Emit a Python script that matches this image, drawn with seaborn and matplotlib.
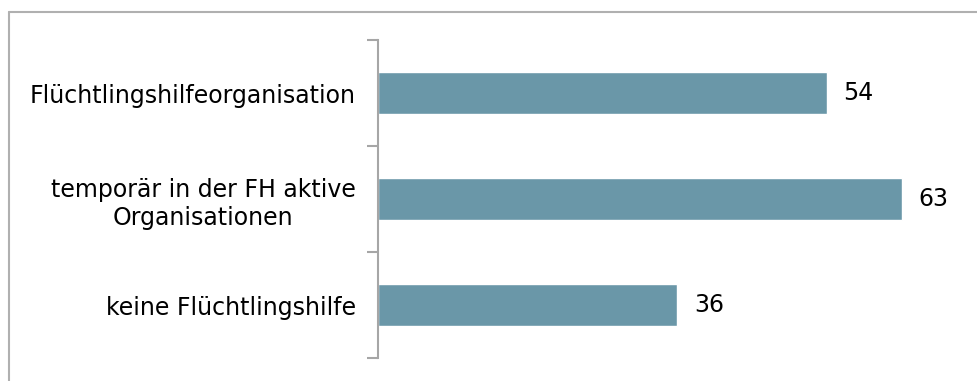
import matplotlib
matplotlib.use("Agg")
import matplotlib.pyplot as plt
import seaborn as sns
import pandas as pd
from matplotlib.lines import Line2D

categories = ["Flüchtlingshilfeorganisation", "temporär in der FH aktive\nOrganisationen", "keine Flüchtlingshilfe"]
values = [54, 63, 36]

sns.set_theme(style="white")
plt.rcParams['font.family'] = ['DejaVu Sans']

df = pd.DataFrame({"cat": categories, "val": values})
fig = plt.figure(figsize=(9.77, 3.81), dpi=100)
ax = fig.add_axes([378/977, 1-358/381, (960-378)/977, (358-40)/381])
sns.barplot(data=df, y="cat", x="val", color="#6A97A8", width=0.4, ax=ax, saturation=1)
ax.set_xlim(0, 70)
ax.set_ylim(2.5, -0.5)
ax.set_xlabel("")
ax.set_ylabel("")
ax.set_xticks([])
for s in ["top", "right", "bottom"]:
    ax.spines[s].set_visible(False)
ax.spines["left"].set_color("#A6A6A6")
ax.spines["left"].set_linewidth(1.5)
ax.tick_params(axis="y", which="major", length=0, pad=16, labelsize=17, labelcolor="black")
ax.set_yticks([-0.5, 0.5, 1.5, 2.5], minor=True)
ax.tick_params(axis="y", which="minor", length=8, width=1.5, color="#A6A6A6", direction="out", left=True)
for lab in ax.get_yticklabels():
    lab.set_multialignment("center")
    lab.set_linespacing(1.25)
for i, v in enumerate(values):
    ax.text(v + 2, i, str(v), va="center", ha="left", fontsize=17, color="black")

fig.add_artist(Line2D([8.5/977, 1], [1-11.5/381, 1-11.5/381], transform=fig.transFigure, color="#B0B0B0", lw=1.5))
fig.add_artist(Line2D([8.5/977, 8.5/977], [0, 1-11.5/381], transform=fig.transFigure, color="#B0B0B0", lw=1.5))
fig.savefig("out.png", dpi=100)
